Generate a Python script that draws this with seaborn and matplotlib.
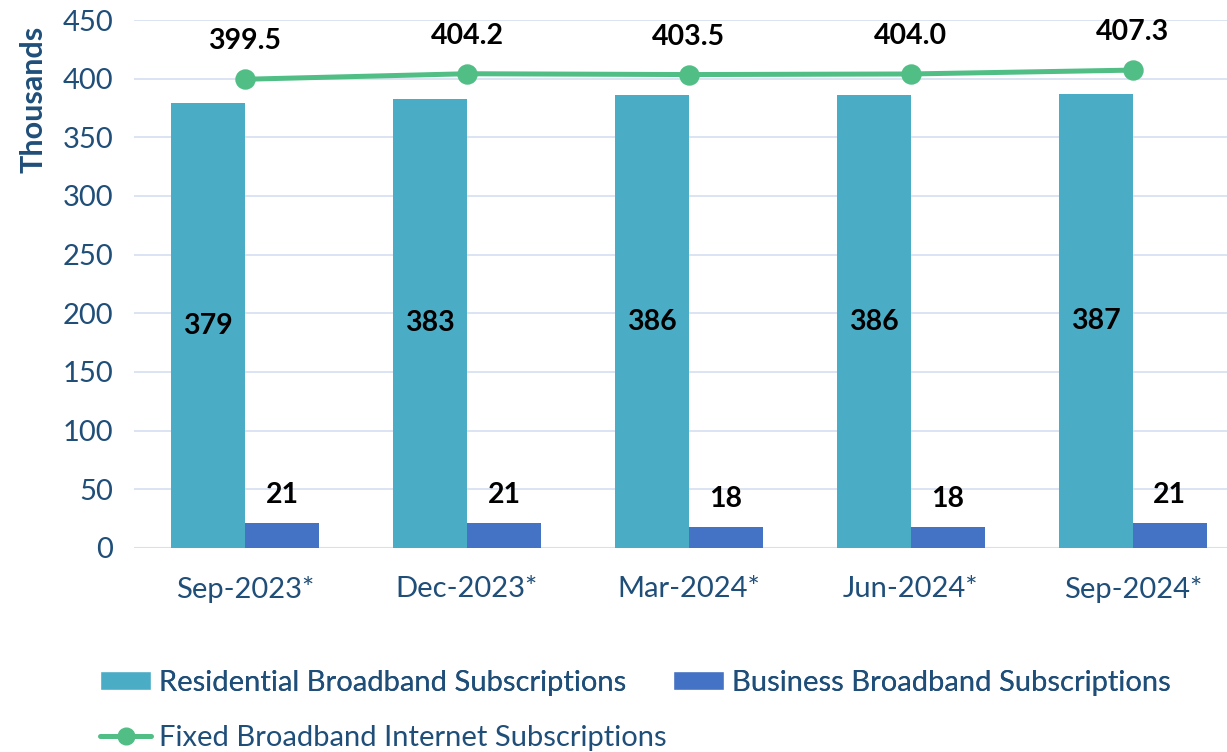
import numpy as np
import pandas as pd
import matplotlib.pyplot as plt
import seaborn as sns
from matplotlib.patches import Patch
from matplotlib.lines import Line2D

# -------------------- Data --------------------
quarters = ['Sep-2023*', 'Dec-2023*', 'Mar-2024*', 'Jun-2024*', 'Sep-2024*']
residential = [379, 383, 386, 386, 387]
business = [21, 21, 18, 18, 21]
fixed_total = [399.5, 404.2, 403.5, 404.0, 407.3]

RES_NAME = 'Residential Broadband Subscriptions'
BUS_NAME = 'Business Broadband Subscriptions'
FIX_NAME = 'Fixed Broadband Internet Subscriptions'

RES_COLOR = '#4BACC6'
BUS_COLOR = '#4472C4'
FIX_COLOR = '#50BE85'
TEXT_BLUE = '#1F4E79'
GRID_COLOR = '#D9E2F3'

bars = pd.DataFrame({
    'quarter': quarters * 2,
    'value': residential + business,
    'series': [RES_NAME] * len(quarters) + [BUS_NAME] * len(quarters),
})

# -------------------- Plot --------------------
sns.set_style('white')
plt.rcParams['font.family'] = ['Lato', 'DejaVu Sans']

fig = plt.figure(figsize=(12.27, 7.52), dpi=100)
ax = fig.add_axes([0.1092, 0.2713, 0.9045, 0.7021])

sns.barplot(data=bars, x='quarter', y='value', hue='series', order=quarters,
            hue_order=[RES_NAME, BUS_NAME], palette=[RES_COLOR, BUS_COLOR],
            saturation=1, width=0.667, linewidth=0, legend=False, ax=ax)

sns.pointplot(x=quarters, y=fixed_total, order=quarters, color=FIX_COLOR,
              markers='o', markersize=12, linewidth=3.6, ax=ax)

# data labels
ax.bar_label(ax.containers[0], labels=[str(v) for v in residential], label_type='center',
             fontsize=20.5, fontweight='bold', color='black')
ax.bar_label(ax.containers[1], labels=[str(v) for v in business], padding=11,
             fontsize=20.5, fontweight='bold', color='black')
for i, v in enumerate(fixed_total):
    ax.annotate(f'{v:.1f}', xy=(i, v), xytext=(0, 18), textcoords='offset points',
                ha='center', va='bottom', fontsize=20.5, fontweight='bold', color='black')

# axes styling
ax.set_ylim(0, 450)
ax.set_yticks(np.arange(0, 451, 50))
ax.set_xlim(-0.5, len(quarters) - 0.5)
ax.yaxis.grid(True, color=GRID_COLOR, linewidth=1.3)
ax.set_axisbelow(True)
sns.despine(ax=ax, left=True, top=True, right=True, bottom=True)
ax.axhline(0, color='#C9D3E3', linewidth=1.5, zorder=0.5)
ax.tick_params(axis='both', length=0, labelsize=21, colors=TEXT_BLUE)
ax.tick_params(axis='x', pad=20)
ax.tick_params(axis='y', pad=15)
ax.set_xlabel('')
ax.set_ylabel('Thousands', fontsize=22, fontweight='bold', color=TEXT_BLUE)
ax.yaxis.set_label_coords(-0.078, 0.85)

# legend: row 1 residential + business, row 2 fixed
leg_kw = dict(loc='upper left', frameon=False, fontsize=21, labelcolor=TEXT_BLUE,
              handlelength=1.75, handleheight=0.63, handletextpad=0.27,
              borderaxespad=0, borderpad=0)
row1 = fig.legend(handles=[Patch(facecolor=RES_COLOR, label=RES_NAME),
                           Patch(facecolor=BUS_COLOR, label=BUS_NAME)],
                  ncol=2, columnspacing=1.6, bbox_to_anchor=(0.0815, 0.109), **leg_kw)
fig.add_artist(row1)
fig.legend(handles=[Line2D([0], [0], color=FIX_COLOR, linewidth=3.6, marker='o',
                           markersize=12, label=FIX_NAME)],
           bbox_to_anchor=(0.0815, 0.036), **leg_kw)

plt.savefig('out.png', dpi=100)
